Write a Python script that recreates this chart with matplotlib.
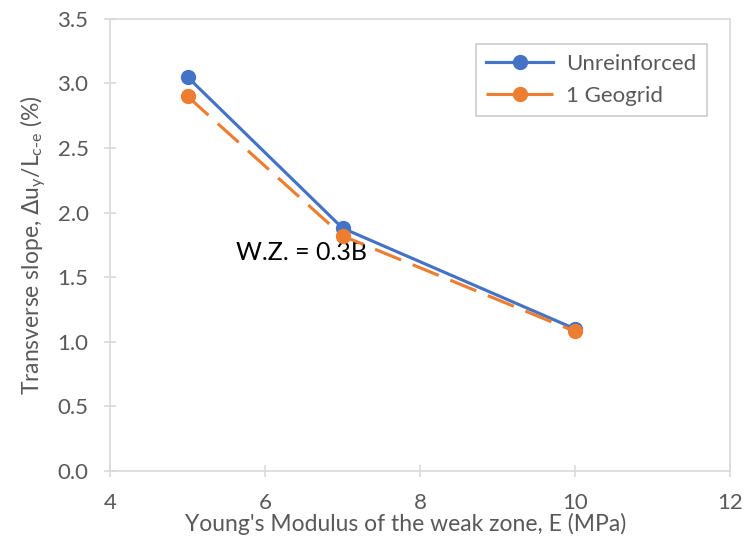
import matplotlib
matplotlib.use("Agg")
import matplotlib.pyplot as plt

# values
modulus = [5, 7, 10]
unreinforced = [3.05, 1.88, 1.10]
geogrid = [2.90, 1.82, 1.08]
series_names = ["Unreinforced", "1 Geogrid"]

x_ticks = [4, 6, 8, 10, 12]
y_ticks = [0.0, 0.5, 1.0, 1.5, 2.0, 2.5, 3.0, 3.5]

BLUE = "#4472C4"
ORANGE = "#ED7D31"
GREY_TEXT = "#595959"
GREY_LINE = "#D9D9D9"

plt.rcParams["font.family"] = ["Lato", "DejaVu Sans"]

fig = plt.figure(figsize=(7.46, 5.46), dpi=100)
ax = fig.add_axes([0.1475, 0.1374, 0.8311, 0.828])

ax.plot(modulus, unreinforced, color=BLUE, lw=2.25, marker="o", ms=10,
        label=series_names[0], zorder=3)
ax.plot(modulus, geogrid, color=ORANGE, lw=2.25, marker="o", ms=10,
        dashes=(9, 4), label=series_names[1], zorder=4)

ax.text(5.63, 1.69, "W.Z. = 0.3B", fontsize=18, color="black", va="center", ha="left")

ax.set_xlim(4, 12)
ax.set_ylim(0, 3.5)
ax.set_xticks(x_ticks)
ax.set_yticks(y_ticks)
ax.set_xticklabels([str(v) for v in x_ticks])
ax.set_yticklabels([f"{v:.1f}" for v in y_ticks])

for s in ax.spines.values():
    s.set_color(GREY_LINE)
    s.set_linewidth(1.2)

ax.tick_params(axis="both", direction="inout", length=9, width=1.2, color=GREY_LINE,
               labelsize=16, labelcolor=GREY_TEXT)
ax.tick_params(axis="x", pad=11)
ax.tick_params(axis="y", pad=11)

ax.set_xlabel("Young's Modulus of the weak zone, E (MPa)", fontsize=16.5, color=GREY_TEXT,
              labelpad=0, x=0.476)
ax.set_ylabel(r"Transverse slope, $\Delta$u$_\mathregular{y}$/L$_\mathregular{c\text{-}e}$ (%)",
              fontsize=16.5, color=GREY_TEXT, labelpad=6)

leg = ax.legend(loc="upper right", bbox_to_anchor=(0.98, 0.97), fontsize=16,
                frameon=True, fancybox=False, handlelength=3.0, labelcolor=GREY_TEXT,
                borderpad=0.45, labelspacing=0.55, handletextpad=0.6)
leg.get_frame().set_edgecolor("#BFBFBF")
leg.get_frame().set_linewidth(1.2)

fig.savefig("out.png", dpi=100)
